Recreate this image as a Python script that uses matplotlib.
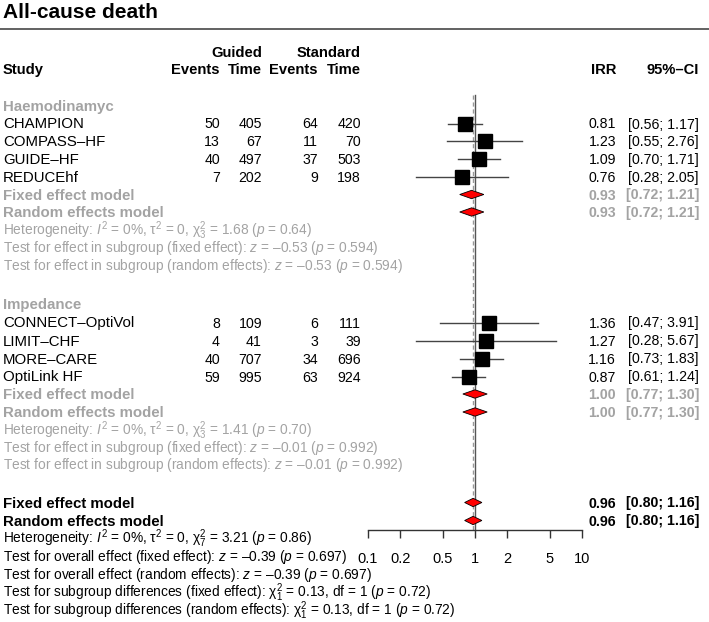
import matplotlib
matplotlib.use("Agg")
import matplotlib.pyplot as plt
import numpy as np

plt.rcParams['font.family'] = ['Liberation Sans', 'DejaVu Sans']
plt.rcParams['mathtext.fontset'] = 'custom'
plt.rcParams['mathtext.rm'] = 'Liberation Sans'
plt.rcParams['mathtext.it'] = 'Liberation Sans:italic'
plt.rcParams['mathtext.bf'] = 'Liberation Sans:bold'

# ---------------- data ----------------
title = "All-cause death"
group_names = ["Haemodinamyc", "Impedance"]

studies_g1 = ["CHAMPION", "COMPASS–HF", "GUIDE–HF", "REDUCEhf"]
ev_guided_g1 = [50, 13, 40, 7]
time_guided_g1 = [405, 67, 497, 202]
ev_std_g1 = [64, 11, 37, 9]
time_std_g1 = [420, 70, 503, 198]
irr_g1 = [0.81, 1.23, 1.09, 0.76]
lo_g1 = [0.56, 0.55, 0.70, 0.28]
hi_g1 = [1.17, 2.76, 1.71, 2.05]

studies_g2 = ["CONNECT–OptiVol", "LIMIT–CHF", "MORE–CARE", "OptiLink HF"]
ev_guided_g2 = [8, 4, 40, 59]
time_guided_g2 = [109, 41, 707, 995]
ev_std_g2 = [6, 3, 34, 63]
time_std_g2 = [111, 39, 696, 924]
irr_g2 = [1.36, 1.27, 1.16, 0.87]
lo_g2 = [0.47, 0.28, 0.73, 0.61]
hi_g2 = [3.91, 5.67, 1.83, 1.24]

# pooled: [fixed, random] -> (est, lo, hi)
pooled_g1 = [(0.93, 0.72, 1.21), (0.93, 0.72, 1.21)]
pooled_g2 = [(1.00, 0.77, 1.30), (1.00, 0.77, 1.30)]
pooled_all = [(0.96, 0.80, 1.16), (0.96, 0.80, 1.16)]

stats_g1 = [
    r"Heterogeneity: $I^2$ = 0%, τ$^2$ = 0, χ$^2_3$ = 1.68 ($p$ = 0.64)",
    r"Test for effect in subgroup (fixed effect): $z$ = –0.53 ($p$ = 0.594)",
    r"Test for effect in subgroup (random effects): $z$ = –0.53 ($p$ = 0.594)",
]
stats_g2 = [
    r"Heterogeneity: $I^2$ = 0%, τ$^2$ = 0, χ$^2_3$ = 1.41 ($p$ = 0.70)",
    r"Test for effect in subgroup (fixed effect): $z$ = –0.01 ($p$ = 0.992)",
    r"Test for effect in subgroup (random effects): $z$ = –0.01 ($p$ = 0.992)",
]
stats_all = [
    r"Heterogeneity: $I^2$ = 0%, τ$^2$ = 0, χ$^2_7$ = 3.21 ($p$ = 0.86)",
    r"Test for overall effect (fixed effect): $z$ = –0.39 ($p$ = 0.697)",
    r"Test for overall effect (random effects): $z$ = –0.39 ($p$ = 0.697)",
    r"Test for subgroup differences (fixed effect): χ$^2_1$ = 0.13, df = 1 ($p$ = 0.72)",
    r"Test for subgroup differences (random effects): χ$^2_1$ = 0.13, df = 1 ($p$ = 0.72)",
]
model_labels = ["Fixed effect model", "Random effects model"]
ticks = [0.1, 0.2, 0.5, 1, 2, 5, 10]
tick_labels = ["0.1", "0.2", "0.5", "1", "2", "5", "10"]
ref_line = 1.0

# ---------------- layout ----------------
W, H = 709, 622
fig = plt.figure(figsize=(W / 100, H / 100), dpi=100)
ax = fig.add_axes([0, 0, 1, 1])
ax.set_xlim(0, W)
ax.set_ylim(H, 0)
ax.axis('off')

x_l, x_r = 368, 582
fax = fig.add_axes([x_l / W, 0, (x_r - x_l) / W, 1])
fax.set_xscale('log')
fax.set_xlim(0.1, 10)
fax.set_ylim(H, 0)
fax.patch.set_alpha(0)
for s in ['top', 'left', 'right']:
    fax.spines[s].set_visible(False)
axis_y = 530
fax.spines['bottom'].set_position(('data', axis_y))
fax.spines['bottom'].set_color('#333333')
fax.spines['bottom'].set_linewidth(1.0)
fax.set_yticks([])
fax.set_xticks(ticks)
fax.set_xticklabels(tick_labels)
fax.minorticks_off()
fax.tick_params(axis='x', direction='out', length=6, width=1.0, color='#333333',
                labelsize=10.5, pad=9.5)

FS_NAME = 10.8   # study names / model labels
FS_NUM = 10.2    # numbers
FS_HEAD = 10.6   # column headers
FS_STAT = 9.87   # heterogeneity / test lines
GRAY = '#a3a3a3'
CAP = 5.0  # half cap height in px, for baseline alignment

def txt(x, y, s, ha='left', color='black', bold=False, size=FS_NUM):
    ax.text(x, y + CAP, s, ha=ha, va='baseline', color=color, fontsize=size,
            fontweight='bold' if bold else 'normal')

# title and rule
ax.text(3, 13, title, ha='left', va='center', fontsize=15, fontweight='bold')
ax.plot([0, W], [29, 29], color='#555555', lw=1.3, solid_capstyle='butt')

# headers
X_NAME, X_EG, X_TG, X_ES, X_TS, X_IRR, X_CI = 3, 220, 262, 318, 361, 616, 699
txt(X_TG, 52, "Guided", ha='right', bold=True, size=FS_HEAD)
txt(X_TS, 52, "Standard", ha='right', bold=True, size=FS_HEAD)
txt(X_NAME, 69, "Study", bold=True, size=FS_HEAD)
txt(X_EG, 69, "Events", ha='right', bold=True, size=FS_HEAD)
txt(X_TG, 69, "Time", ha='right', bold=True, size=FS_HEAD)
txt(X_ES, 69, "Events", ha='right', bold=True, size=FS_HEAD)
txt(X_TS, 69, "Time", ha='right', bold=True, size=FS_HEAD)
txt(X_IRR, 69, "IRR", ha='right', bold=True, size=FS_HEAD)
txt(X_CI, 69, "95%–CI", ha='right', bold=True, size=FS_HEAD)

def ci_str(lo, hi):
    return f"[{lo:.2f}; {hi:.2f}]"

def diamond(est, lo, hi, y, hh=4.2):
    fax.fill([lo, est, hi, est], [y, y - hh, y, y + hh], facecolor='#ff0000',
             edgecolor='black', lw=0.6, zorder=4)

def draw_group(name, y_head, ys, names, eg, tg, es, ts, irr, lo, hi,
               y_pool, pooled, y_stats, stats):
    txt(X_NAME, y_head, name, color=GRAY, bold=True, size=FS_NAME)
    for i, y in enumerate(ys):
        txt(X_NAME, y, names[i], size=FS_NAME)
        txt(X_EG, y, str(eg[i]), ha='right')
        txt(X_TG, y, str(tg[i]), ha='right')
        txt(X_ES, y, str(es[i]), ha='right')
        txt(X_TS, y, str(ts[i]), ha='right')
        txt(X_IRR, y, f"{irr[i]:.2f}", ha='right')
        txt(X_CI, y, ci_str(lo[i], hi[i]), ha='right')
        fax.plot([lo[i], hi[i]], [y, y], color='#444444', lw=1.0, zorder=3)
        fax.plot([irr[i]], [y], marker='s', ms=9.8, color='black', mec='black',
                 zorder=5)
    for j, y in enumerate(y_pool):
        est, l, h = pooled[j]
        txt(X_NAME, y, model_labels[j], color=GRAY, bold=True, size=FS_NAME)
        txt(X_IRR, y, f"{est:.2f}", ha='right', color=GRAY, bold=True)
        txt(X_CI, y, ci_str(l, h), ha='right', color=GRAY, bold=True)
        diamond(est, l, h, y)
    for j, y in enumerate(y_stats):
        txt(X_NAME, y, stats[j], color=GRAY, size=FS_STAT)

draw_group(group_names[0], 106, [123.5, 141.3, 159, 176.8], studies_g1,
           ev_guided_g1, time_guided_g1, ev_std_g1, time_std_g1,
           irr_g1, lo_g1, hi_g1, [194.5, 212], pooled_g1,
           [229.7, 247.4, 265], stats_g1)
draw_group(group_names[1], 304, [322.5, 340.5, 358.5, 376.5], studies_g2,
           ev_guided_g2, time_guided_g2, ev_std_g2, time_std_g2,
           irr_g2, lo_g2, hi_g2, [394, 412], pooled_g2,
           [429.5, 447, 464.5], stats_g2)

# overall
for j, y in enumerate([502.5, 520.5]):
    est, l, h = pooled_all[j]
    txt(X_NAME, y, model_labels[j], bold=True, size=FS_NAME)
    txt(X_IRR, y, f"{est:.2f}", ha='right', bold=True)
    txt(X_CI, y, ci_str(l, h), ha='right', bold=True)
    diamond(est, l, h, y)
for j, y in enumerate([538.5, 556.5, 574.5, 592.5, 610.5]):
    txt(X_NAME, y, stats_all[j], size=FS_STAT)

# reference lines
fax.plot([ref_line, ref_line], [95, axis_y], color='#555555', lw=1.0, zorder=2)
fax.plot([pooled_all[0][0]] * 2, [95, axis_y], color='#999999', lw=1.0,
         ls=(0, (3, 2)), zorder=2)

fig.savefig("out.png", dpi=100)
